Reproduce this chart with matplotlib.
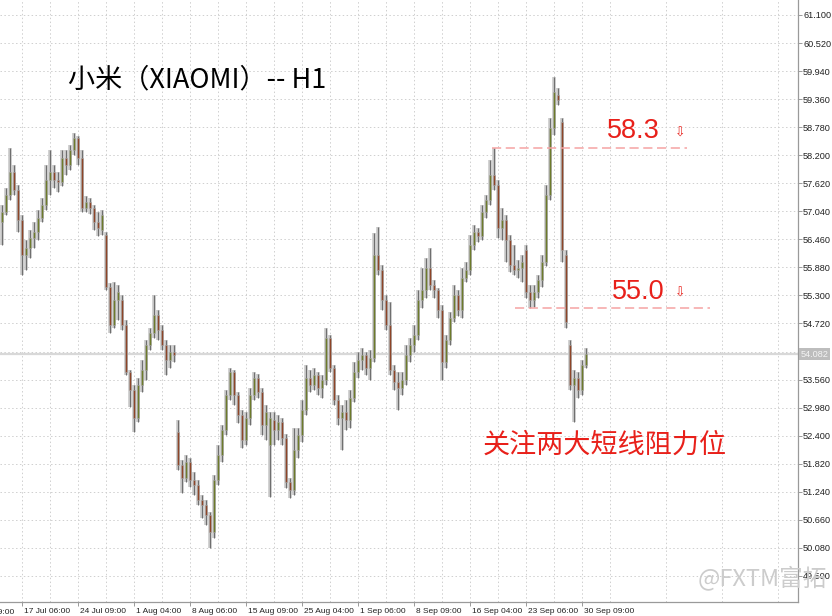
# -*- coding: utf-8 -*-

# %% Imports
import matplotlib
matplotlib.use('Agg')
import matplotlib.pyplot as plt
import matplotlib.transforms as mtransforms
import numpy as np

# %% Data (XIAOMI H1 candles)
opens = [56.82, 57.03, 57.38, 57.85, 57.48, 56.86, 56.14, 56.28, 56.48, 56.61,
         56.90, 57.17, 57.69, 57.85, 57.69, 57.65, 58.14, 58.00, 58.31, 58.55,
         58.14, 57.10, 57.23, 57.10, 56.82, 56.65, 56.55, 55.48, 54.69, 55.21,
         55.21, 54.69, 53.72, 53.35, 52.76, 53.45, 53.76, 54.28, 54.53, 54.90,
         54.59, 54.28, 53.97, 54.13, 52.48, 51.80, 51.52, 51.86, 51.48, 51.38,
         51.07, 50.97, 50.76, 50.41, 51.48, 52.00, 52.52, 53.25, 53.72, 53.25,
         52.83, 52.31, 52.76, 53.25, 53.59, 53.31, 52.63, 52.21, 52.73, 52.52,
         52.69, 52.35, 51.44, 51.28, 52.10, 52.42, 52.93, 53.59, 53.45, 53.66,
         53.38, 53.55, 54.42, 53.80, 53.14, 52.76, 52.89, 52.73, 53.18, 53.72,
         53.97, 54.07, 53.80, 54.00, 56.14, 55.83, 55.21, 54.69, 53.76, 53.51,
         53.38, 53.55, 54.07, 54.28, 54.49, 55.21, 55.41, 55.86, 55.52, 55.41,
         55.00, 53.93, 54.38, 54.83, 55.31, 55.00, 55.66, 55.83, 56.35, 56.61,
         56.53, 57.03, 57.27, 57.79, 57.59, 56.69, 56.86, 56.45, 55.93, 55.83,
         55.86, 56.24, 55.37, 55.21, 55.37, 55.62, 55.99, 57.38, 58.76, 59.45,
         58.89, 56.14, 54.28, 53.45, 53.59, 53.35, 53.87]
highs = [57.17, 57.52, 58.34, 58.00, 57.59, 56.97, 56.45, 56.65, 56.82, 57.07,
         57.31, 58.00, 58.31, 58.00, 57.85, 58.31, 58.31, 58.41, 58.66, 58.60,
         58.31, 57.36, 57.31, 57.17, 57.03, 57.07, 56.61, 55.56, 55.58, 55.52,
         55.31, 54.79, 53.76, 53.45, 53.59, 53.97, 54.38, 54.62, 55.31, 55.00,
         54.69, 54.38, 54.28, 54.28, 52.73, 51.90, 52.00, 51.93, 51.65, 51.48,
         51.18, 51.07, 50.82, 51.59, 52.21, 52.63, 53.35, 53.80, 53.76, 53.31,
         52.93, 52.89, 53.38, 53.72, 53.68, 53.38, 53.04, 52.89, 52.89, 52.83,
         52.76, 52.44, 51.52, 52.56, 52.56, 53.14, 53.87, 53.76, 53.80, 53.72,
         53.66, 54.62, 54.49, 53.87, 53.25, 53.04, 53.14, 53.35, 53.93, 54.13,
         54.21, 54.13, 54.17, 56.59, 56.72, 55.93, 55.31, 55.17, 53.87, 53.72,
         53.72, 54.28, 54.42, 54.69, 55.41, 55.86, 56.07, 56.28, 55.62, 55.45,
         55.10, 54.49, 54.96, 55.52, 55.41, 55.86, 55.99, 56.55, 56.76, 56.69,
         57.17, 57.38, 58.10, 58.34, 57.69, 57.10, 56.97, 56.55, 56.35, 56.03,
         56.14, 56.35, 55.52, 55.52, 55.73, 56.14, 57.59, 58.97, 59.82, 59.59,
         58.97, 56.24, 54.38, 53.76, 53.72, 53.97, 54.21]
lows = [56.35, 56.97, 57.27, 57.38, 56.61, 55.73, 55.83, 56.07, 56.28, 56.45,
        56.82, 57.07, 57.38, 57.52, 57.44, 57.57, 57.79, 57.89, 58.21, 58.00,
        57.03, 57.03, 56.99, 56.65, 56.53, 56.55, 55.41, 54.53, 54.62, 54.79,
        54.59, 53.66, 53.00, 52.48, 52.69, 53.31, 53.55, 54.17, 54.42, 54.38,
        54.17, 53.66, 53.80, 53.93, 51.69, 51.22, 51.44, 51.34, 51.18, 50.97,
        50.69, 50.56, 50.07, 50.28, 51.38, 51.86, 52.42, 53.14, 53.04, 52.67,
        52.14, 52.21, 52.63, 53.14, 53.18, 52.42, 52.31, 51.14, 52.21, 52.31,
        52.21, 51.31, 51.11, 51.18, 51.93, 52.27, 52.83, 53.31, 53.35, 53.25,
        53.18, 53.45, 53.72, 53.04, 52.63, 52.10, 52.52, 52.56, 53.10, 53.59,
        53.76, 53.66, 53.55, 53.93, 55.73, 55.00, 54.59, 53.66, 53.35, 52.93,
        53.25, 53.45, 53.93, 54.13, 54.38, 55.04, 55.24, 55.41, 55.24, 54.83,
        53.55, 53.80, 54.28, 54.75, 54.88, 54.83, 55.58, 55.73, 56.24, 56.41,
        56.45, 56.90, 57.17, 57.48, 56.48, 56.45, 55.99, 55.79, 55.73, 55.66,
        55.58, 55.24, 55.04, 55.07, 55.24, 55.48, 55.91, 57.27, 58.62, 59.24,
        55.99, 54.62, 53.35, 52.69, 53.18, 53.25, 53.80]
closes = [57.03, 57.38, 57.85, 57.48, 56.86, 56.14, 56.28, 56.48, 56.61, 56.90,
          57.17, 57.69, 57.85, 57.69, 57.65, 58.14, 58.00, 58.31, 58.55, 58.14,
          57.10, 57.23, 57.10, 56.82, 56.69, 56.97, 55.48, 54.69, 55.21, 55.37,
          54.69, 53.72, 53.35, 52.76, 53.45, 53.76, 54.28, 54.53, 54.90, 54.59,
          54.28, 53.97, 54.13, 54.07, 51.80, 51.52, 51.86, 51.48, 51.38, 51.07,
          50.97, 50.76, 50.41, 51.48, 52.00, 52.52, 53.25, 53.72, 53.25, 52.83,
          52.31, 52.76, 53.25, 53.59, 53.31, 52.63, 52.89, 52.76, 52.52, 52.69,
          52.35, 51.44, 51.28, 52.10, 52.42, 52.93, 53.59, 53.45, 53.66, 53.38,
          53.55, 54.42, 53.80, 53.14, 52.76, 52.89, 52.73, 53.18, 53.72, 53.97,
          54.07, 53.80, 54.00, 56.14, 55.83, 55.21, 54.69, 53.76, 53.51, 53.38,
          53.55, 54.07, 54.28, 54.49, 55.21, 55.41, 55.86, 55.52, 55.41, 55.00,
          53.93, 54.38, 54.83, 55.31, 55.00, 55.66, 55.83, 56.35, 56.61, 56.53,
          57.03, 57.27, 57.79, 57.59, 56.69, 56.86, 56.45, 55.93, 55.83, 55.86,
          55.99, 55.37, 55.21, 55.37, 55.62, 55.99, 57.38, 58.76, 59.51, 59.34,
          56.24, 54.75, 53.45, 53.59, 53.35, 53.87, 54.08]

date_labels = ["10 Jul 09:00", "17 Jul 06:00", "24 Jul 09:00", "1 Aug 04:00",
               "8 Aug 06:00", "15 Aug 09:00", "25 Aug 04:00", "1 Sep 06:00",
               "8 Sep 09:00", "16 Sep 04:00", "23 Sep 06:00", "30 Sep 09:00"]
date_bars = [-9, 5, 19, 33, 47, 61, 75, 89, 103, 117, 131, 145]
grid_bars = [-2, 12, 26, 40, 54, 68, 82, 96, 110, 124, 138, 152, 166, 180, 194]
price_ticks = [61.100, 60.520, 59.940, 59.360, 58.780, 58.200, 57.620, 57.040,
               56.460, 55.880, 55.300, 54.720, 54.140, 53.560, 52.980, 52.400,
               51.820, 51.240, 50.660, 50.080, 49.500]
last_price = 54.082
level_labels = ["58.3", "55.0"]
level_prices = [58.34, 55.04]
level_spans = [(122.5, 171.3), (128.3, 177.0)]

# %% Figure
W, H = 832, 616
fig = plt.figure(figsize=(W / 100, H / 100), dpi=100)
ax = fig.add_axes([0, 14 / H, 797.5 / W, 602 / H])
ax.set_xlim(-0.5, 198.9)
ax.set_ylim(48.96, 61.41)

# grid
grid_kw = dict(color='#cfcfcf', lw=0.7, linestyle=(0, (1.5, 2.5)), zorder=0)
for p in price_ticks:
    ax.axhline(p, **grid_kw)
for b in grid_bars + date_bars:
    ax.axvline(b, **grid_kw)

# current price line
ax.axhline(last_price, color='#d8d8d8', lw=1.6, zorder=1)

# candles
o, h, l, c = (np.array(v) for v in (opens, highs, lows, closes))
idx = np.arange(len(c))
up = c >= o
ax.vlines(idx, l, h, color='#c9c9c9', lw=2.6, zorder=2)
ax.vlines(idx, l, h, color='#6f6f6f', lw=0.8, zorder=3)
body = np.maximum(np.abs(c - o), 0.03)
ax.bar(idx[up], body[up], bottom=o[up], width=0.55, color='#6d7b2b',
       edgecolor='#a9a9a9', lw=0.4, zorder=4)
ax.bar(idx[~up], body[~up], bottom=c[~up], width=0.55, color='#8e4528',
       edgecolor='#a9a9a9', lw=0.4, zorder=4)

# resistance levels
for lab, p, (x0, x1) in zip(level_labels, level_prices, level_spans):
    ax.hlines(p, x0, x1, colors='#f5a3a3', lw=1.1, linestyles=(0, (6, 3)), zorder=5)
ax.text(151.3, 58.70, level_labels[0], color='#e8201a', fontsize=19.5,
        family='Liberation Sans', va='center', ha='left')
ax.text(152.5, 55.37, level_labels[1], color='#e8201a', fontsize=19.5,
        family='Liberation Sans', va='center', ha='left')
for yy in (58.66, 55.35):
    ax.text(169.5, yy, '⇩', color='#e8201a', fontsize=9, family='DejaVu Sans',
            va='center', ha='center')

# titles
ax.text(16.5, 59.76, '小米（XIAOMI）-- H1', color='black', fontsize=19.5,
        family=['Noto Sans CJK SC', 'DejaVu Sans'], va='center', ha='left')
ax.text(120.3, 52.21, '关注两大短线阻力位', color='#e8201a', fontsize=19.5,
        family=['Noto Sans CJK SC', 'DejaVu Sans'], va='center', ha='left')

# axes styling
for s in ('top', 'left'):
    ax.spines[s].set_visible(False)
for s in ('right', 'bottom'):
    ax.spines[s].set_color('#9a9a9a')
    ax.spines[s].set_linewidth(0.9)

ax.yaxis.tick_right()
ax.set_yticks(price_ticks)
ax.set_yticklabels(['' if abs(p - 54.14) < 1e-6 else '%.3f' % p
                    for p in price_ticks])
ax.tick_params(axis='y', length=3, width=0.7, color='#9a9a9a', pad=1,
               labelsize=6.6, labelcolor='#222222')
ax.set_xticks(date_bars[1:])
ax.set_xticklabels(date_labels[1:])
ax.tick_params(axis='x', length=3, width=0.7, color='#9a9a9a', pad=1,
               labelsize=6.0, labelcolor='#222222')
shift = mtransforms.ScaledTranslation(2 / 100, 0, fig.dpi_scale_trans)
for t in ax.get_xticklabels():
    t.set_ha('left')
    t.set_transform(t.get_transform() + shift)
for t in ax.get_xticklabels() + ax.get_yticklabels():
    t.set_family('Liberation Sans')

# first (cut off) date label
ax.text(date_bars[0], -0.012, date_labels[0], transform=ax.get_xaxis_transform()
        + shift, ha='left', va='top', fontsize=6.0, color='#222222',
        family='Liberation Sans', clip_on=False)

# last price tag
ax.text(1.004, last_price, '%.3f' % last_price,
        transform=ax.get_yaxis_transform(), ha='left', va='center',
        fontsize=6.6, color='#f4f4f4', family='Liberation Sans',
        bbox=dict(boxstyle='square,pad=0.15', fc='#bdbdbd', ec='none'))

# watermark
fig.text(698 / W, 1 - 578 / H, '@FXTM富拓', color='#cccccc', fontsize=17,
         family=['Noto Sans CJK SC', 'DejaVu Sans'], va='center', ha='left')

fig.savefig('out.png', dpi=100, facecolor='white')
